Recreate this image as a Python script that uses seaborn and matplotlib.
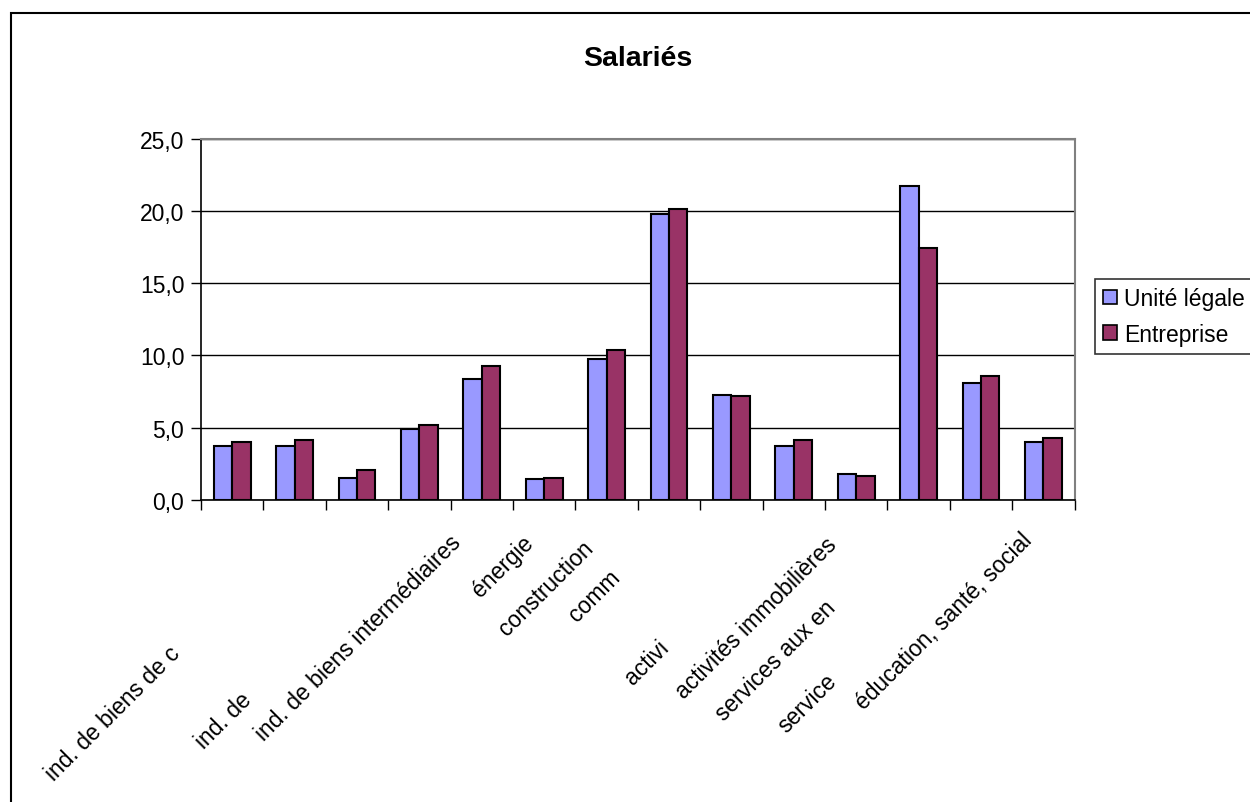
import matplotlib
matplotlib.use("Agg")
import matplotlib.pyplot as plt
from matplotlib.patches import Rectangle, Patch
from matplotlib.ticker import FixedLocator, FuncFormatter
import seaborn as sns
import pandas as pd

# ---------------- data ----------------
categories = [
    "ind. agricoles et alimentaires",
    "ind. de biens de consommation",
    "ind. automobile",
    "ind. de biens d'équipement",
    "ind. de biens intermédiaires",
    "énergie",
    "construction",
    "commerce",
    "transports",
    "activités financières",
    "activités immobilières",
    "services aux entreprises",
    "services aux particuliers",
    "éducation, santé, social",
]
# text as it is visible (partly clipped) in the reference
visible_labels = [
    "",
    "ind. de biens de c",
    "",
    "ind. de",
    "ind. de biens intermédiaires",
    "énergie",
    "construction",
    "comm",
    "",
    "activi",
    "activités immobilières",
    "services aux en",
    "service",
    "éducation, santé, social",
]
series_names = ["Unité légale", "Entreprise"]
unite_legale = [3.74, 3.74, 1.52, 4.92, 8.34, 1.41, 9.77, 19.77, 7.27, 3.74, 1.80, 21.73, 8.06, 4.02]
entreprise   = [4.02, 4.16, 2.08, 5.20, 9.24, 1.52, 10.39, 20.18, 7.16, 4.16, 1.66, 17.46, 8.59, 4.30]
y_ticks = [0, 5, 10, 15, 20, 25]
title = "Salariés"

# ---------------- layout / style (not data) ----------------
# label end-point offsets (pixels) from each category's tick position
label_offsets = [
    (0, 0), (-118, -150), (0, 0), (-171, -196), (-24, -39), (-14, -39),
    (-17, -44), (-52, -74), (0, 0), (-129, -144), (-23, -41), (-87, -104),
    (-148, -177), (-15, -36),
]
colors = ["#9999FF", "#993366"]

sns.set_style("white")
plt.rcParams["font.family"] = ["Liberation Sans", "DejaVu Sans"]
plt.rcParams["text.color"] = "black"
plt.rcParams["xtick.color"] = "black"
plt.rcParams["ytick.color"] = "black"
plt.rcParams["xtick.labelcolor"] = "black"
plt.rcParams["ytick.labelcolor"] = "black"

df = pd.DataFrame({
    "categorie": categories * 2,
    "serie": [series_names[0]] * len(categories) + [series_names[1]] * len(categories),
    "valeur": unite_legale + entreprise,
})

W, H = 1250, 803
fig = plt.figure(figsize=(W / 100, H / 100), dpi=100)
ax = fig.add_axes([201 / W, 1 - 500.7 / H, 873.7 / W, 360.7 / H])

sns.barplot(data=df, x="categorie", y="valeur", hue="serie", order=categories,
            hue_order=series_names, palette=colors, saturation=1, width=0.59,
            edgecolor="black", linewidth=1.5, ax=ax, legend=False, zorder=3)

ax.set_xlim(-0.5, len(categories) - 0.5)
ax.set_ylim(0, 25)
ax.set_xlabel("")
ax.set_ylabel("")

# y axis
ax.yaxis.set_major_locator(FixedLocator(y_ticks))
ax.yaxis.set_major_formatter(FuncFormatter(lambda v, p: f"{v:.1f}".replace(".", ",")))
ax.tick_params(axis="y", which="major", direction="out", length=7, width=1,
               color="black", labelcolor="black", labelsize=16.5, pad=5, left=True)
ax.yaxis.grid(True, color="black", linewidth=1, zorder=0)
ax.set_axisbelow(True)

# x axis: ticks at category boundaries, no regular tick labels
ax.set_xticks(range(len(categories)))
ax.set_xticklabels([""] * len(categories))
ax.tick_params(axis="x", which="major", length=0)
ax.set_xticks([i - 0.5 for i in range(len(categories) + 1)], minor=True)
ax.tick_params(axis="x", which="minor", direction="out", length=7, width=1,
               color="black", bottom=True)

for s in ["left", "bottom"]:
    ax.spines[s].set_color("black")
    ax.spines[s].set_linewidth(1.2)
for s in ["top", "right"]:
    ax.spines[s].set_color("#808080")
    ax.spines[s].set_linewidth(1.5)
    ax.spines[s].set_visible(True)

# rotated category labels
for i, (txt, (dx, dy)) in enumerate(zip(visible_labels, label_offsets)):
    if not txt:
        continue
    ax.annotate(txt, xy=(i, 0), xycoords=("data", "axes fraction"),
                xytext=(dx, dy), textcoords="offset pixels",
                rotation=45, rotation_mode="anchor", ha="right", va="center",
                fontsize=16.5, color="black", annotation_clip=False)

# title
fig.text((201 + 873.7 / 2) / W, 1 - 59 / H, title, ha="center", va="center",
         fontsize=20.5, fontweight="bold", color="black")

# legend
handles = [Patch(facecolor=c, edgecolor="black", linewidth=1.2) for c in colors]
leg = fig.legend(handles, series_names, loc="upper left",
                 bbox_to_anchor=(1095 / W, 1 - 280 / H), fontsize=16.5,
                 frameon=True, fancybox=False, edgecolor="black",
                 handlelength=0.6, handleheight=0.6, handletextpad=0.3,
                 borderpad=0.35, labelspacing=0.55, borderaxespad=0)
leg.get_frame().set_linewidth(1.2)
for t in leg.get_texts():
    t.set_color("black")

# outer chart border
fig.add_artist(Rectangle((11 / W, -0.1), 1.2, 1 - 14 / H + 0.1,
                         transform=fig.transFigure, fill=False,
                         edgecolor="black", linewidth=1.5))

fig.savefig("out.png", dpi=100)
